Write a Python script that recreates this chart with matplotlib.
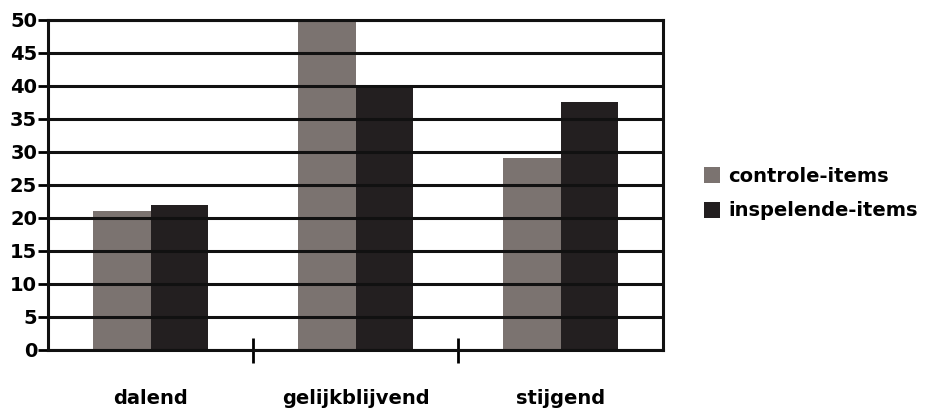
import matplotlib as mpl
mpl.use('Agg')
import matplotlib.pyplot as plt
import numpy as np

categories = ['dalend', 'gelijkblijvend', 'stijgend']
controle = [21, 50, 29]
inspelende = [22, 40, 37.5]
series_names = ['controle-items', 'inspelende-items']
y_ticks = [0, 5, 10, 15, 20, 25, 30, 35, 40, 45, 50]

plt.rcParams['font.family'] = ['DejaVu Sans']
plt.rcParams['font.weight'] = 'bold'

fig = plt.figure(figsize=(9.3, 4.15), dpi=100)
ax = fig.add_axes([0.052, 0.157, 0.661, 0.795])

x = np.arange(len(categories))
w = 0.28
ax.bar(x - w / 2, controle, w, color='#7b7370', label=series_names[0], zorder=1)
ax.bar(x + w / 2, inspelende, w, color='#231f20', label=series_names[1], zorder=1)

ax.set_xlim(-0.5, 2.5)
ax.set_ylim(0, 50)
ax.set_yticks(y_ticks)
# gridlines sit on top of the bars, as in the original
ax.yaxis.grid(True, color='#111111', linewidth=2.2, zorder=3)
ax.set_axisbelow(False)

for s in ax.spines.values():
    s.set_linewidth(2.2)
    s.set_color('#111111')
    s.set_zorder(4)

ax.tick_params(axis='y', length=7, width=2, direction='out', labelsize=14, pad=1)
ax.set_xticks(x)
ax.set_xticklabels(categories, fontsize=14, fontweight='bold')
ax.tick_params(axis='x', which='major', length=0, pad=28)
ax.set_xticks([0.5, 1.5], minor=True)
ax.tick_params(axis='x', which='minor', length=18, width=2, direction='inout')

fig.legend(loc='upper left', bbox_to_anchor=(0.738, 0.64), frameon=False,
           fontsize=14, handlelength=0.85, handleheight=0.9, handletextpad=0.4,
           labelspacing=0.8)

fig.savefig('out.png', dpi=100)
